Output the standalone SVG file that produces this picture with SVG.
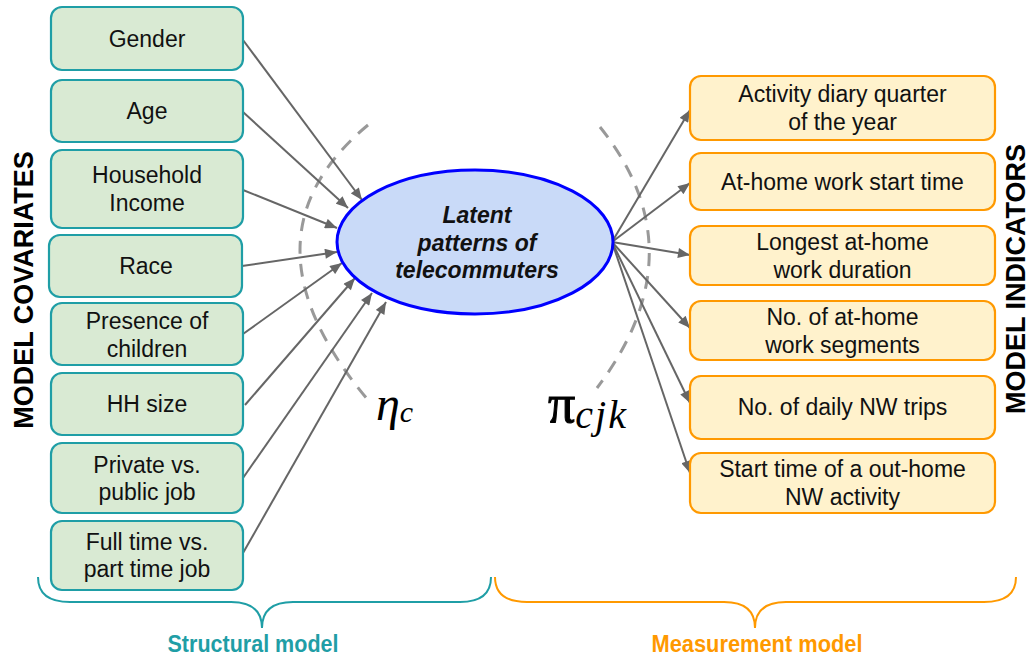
<svg xmlns="http://www.w3.org/2000/svg" width="1031" height="658" viewBox="0 0 1031 658">
<defs>
<marker id="ah" viewBox="0 0 12 10" refX="12" refY="5" markerWidth="13" markerHeight="10" markerUnits="userSpaceOnUse" orient="auto">
<path d="M0,0 L12,5 L0,10 z" fill="#666666"/>
</marker>
<style>
.cov rect{fill:#d9ead3;stroke:#1f9ea6;stroke-width:2.2}
.ind rect{fill:#fff2cc;stroke:#ff9900;stroke-width:2.2}
.t{font-family:"Liberation Sans",Arial,sans-serif;font-size:23px;fill:#111;text-anchor:middle}
.lt{font-family:"Liberation Sans",Arial,sans-serif;font-size:23px;font-weight:bold;font-style:italic;fill:#111;text-anchor:middle}
.conn line{stroke:#666666;stroke-width:2;marker-end:url(#ah)}
.dash{fill:none;stroke:#999999;stroke-width:3;stroke-dasharray:13 10}
.side{font-family:"Liberation Sans",Arial,sans-serif;font-size:27px;font-weight:bold;fill:#000;text-anchor:middle}
.bl{font-family:"Liberation Sans",Arial,sans-serif;font-size:23px;font-weight:bold;text-anchor:middle}
.math{font-family:"Liberation Serif","Times New Roman",serif;font-style:italic;fill:#000}
</style>
</defs>
<rect width="1031" height="658" fill="#ffffff"/>

<path class="dash" d="M368 125 Q232 238 368 400"/>
<path class="dash" d="M600 127 Q700 252 597 388"/>

<g id="connectors" class="conn">
<line x1="243" y1="40" x2="362" y2="200"/>
<line x1="243" y1="112" x2="348" y2="208"/>
<line x1="243" y1="190" x2="337" y2="228"/>
<line x1="242" y1="266" x2="337" y2="252"/>
<line x1="243" y1="334" x2="342" y2="263"/>
<line x1="245" y1="405" x2="355" y2="278"/>
<line x1="243" y1="478" x2="372" y2="293"/>
<line x1="243" y1="553" x2="386" y2="302"/>
<line x1="612" y1="242" x2="690" y2="110"/>
<line x1="612" y1="242" x2="690" y2="183"/>
<line x1="612" y1="242" x2="690" y2="255"/>
<line x1="612" y1="242" x2="690" y2="328"/>
<line x1="612" y1="242" x2="690" y2="403"/>
<line x1="612" y1="242" x2="690" y2="473"/>
</g>

<g id="latent">
<ellipse cx="475" cy="242" rx="138" ry="72" fill="#c9daf8" stroke="#0000ff" stroke-width="3"/>
<text class="lt" x="477" y="223">Latent</text>
<text class="lt" x="477" y="251">patterns of</text>
<text class="lt" x="477" y="278">telecommuters</text>
</g>

<g id="gender" class="cov"><rect x="51" y="7" width="192" height="63" rx="11"/><text class="t" x="147" y="47">Gender</text></g>
<g id="age" class="cov"><rect x="51" y="80" width="192" height="62" rx="11"/><text class="t" x="147" y="119">Age</text></g>
<g id="income" class="cov"><rect x="51" y="150" width="192" height="78" rx="11"/><text class="t" x="147" y="183">Household</text><text class="t" x="147" y="211">Income</text></g>
<g id="race" class="cov"><rect x="49" y="235" width="193" height="62" rx="11"/><text class="t" x="146" y="274">Race</text></g>
<g id="children" class="cov"><rect x="51" y="303" width="192" height="62" rx="11"/><text class="t" x="147" y="329">Presence of</text><text class="t" x="147" y="357">children</text></g>
<g id="hhsize" class="cov"><rect x="51" y="373" width="192" height="62" rx="11"/><text class="t" x="147" y="412">HH size</text></g>
<g id="private" class="cov"><rect x="51" y="443" width="192" height="70" rx="11"/><text class="t" x="147" y="473">Private vs.</text><text class="t" x="147" y="500">public job</text></g>
<g id="fulltime" class="cov"><rect x="51" y="521" width="192" height="69" rx="11"/><text class="t" x="147" y="550">Full time vs.</text><text class="t" x="147" y="577">part time job</text></g>

<g id="quarter" class="ind"><rect x="690" y="76" width="305" height="64" rx="11"/><text class="t" x="842.5" y="102">Activity diary quarter</text><text class="t" x="842.5" y="130">of the year</text></g>
<g id="starttime" class="ind"><rect x="690" y="153" width="305" height="57" rx="11"/><text class="t" x="842.5" y="190">At-home work start time</text></g>
<g id="duration" class="ind"><rect x="690" y="226" width="305" height="59" rx="11"/><text class="t" x="842.5" y="250">Longest at-home</text><text class="t" x="842.5" y="278">work duration</text></g>
<g id="segments" class="ind"><rect x="690" y="301" width="305" height="59" rx="11"/><text class="t" x="842.5" y="325">No. of at-home</text><text class="t" x="842.5" y="353">work segments</text></g>
<g id="trips" class="ind"><rect x="690" y="376" width="305" height="63" rx="11"/><text class="t" x="842.5" y="415">No. of daily NW trips</text></g>
<g id="outhome" class="ind"><rect x="690" y="453" width="305" height="60" rx="11"/><text class="t" x="842.5" y="477">Start time of a out-home</text><text class="t" x="842.5" y="505">NW activity</text></g>

<text class="math" x="376" y="420" font-size="48">η<tspan font-size="30" dy="2">c</tspan></text>
<text class="math" x="548" y="422" font-size="54" style="font-style:normal" stroke="#000" stroke-width="1">π<tspan font-size="40" dy="6" style="font-style:italic" stroke-width="0" letter-spacing="2">cjk</tspan></text>

<text class="side" transform="translate(1025,279) rotate(-90)">MODEL INDICATORS</text>
<text class="side" transform="translate(33,290) rotate(-90)">MODEL COVARIATES</text>

<path d="M38 577 Q38 602 70 602 L231 602 Q262 602 262 628 Q262 602 293 602 L460 602 Q491 602 491 577" fill="none" stroke="#1f9ea6" stroke-width="2"/>
<path d="M495 577 Q495 602 527 602 L724 602 Q755 602 755 628 Q755 602 786 602 L984 602 Q1016 602 1016 577" fill="none" stroke="#ff9900" stroke-width="2"/>
<text class="bl" x="253" y="652" fill="#1f9ea6" textLength="171" lengthAdjust="spacingAndGlyphs">Structural model</text>
<text class="bl" x="757" y="652" fill="#ff9900" textLength="211" lengthAdjust="spacingAndGlyphs">Measurement model</text>
</svg>
